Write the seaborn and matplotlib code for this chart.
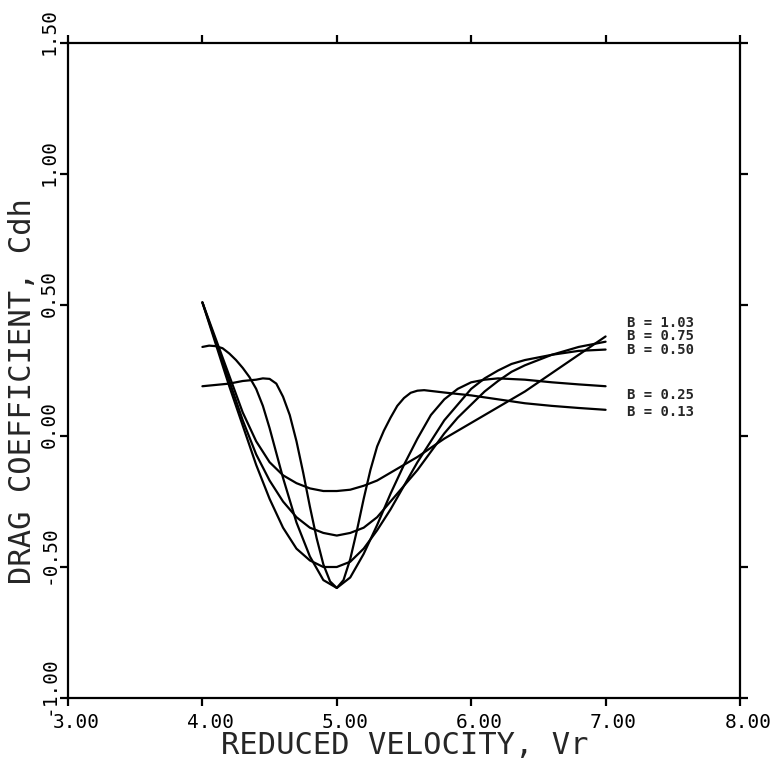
import numpy as np
import pandas as pd
import matplotlib
matplotlib.use("Agg")
import matplotlib.pyplot as plt
import matplotlib.transforms as mtransforms
import seaborn as sns

# ---- data ----
labels = ["B = 1.03", "B = 0.75", "B = 0.50", "B = 0.25", "B = 0.13"]

x_b103 = [4.0, 4.1, 4.2, 4.3, 4.4, 4.5, 4.6, 4.7, 4.8, 4.9, 5.0, 5.1, 5.2, 5.3, 5.4,
          5.5, 5.6, 5.7, 5.8, 5.9, 6.0, 6.1, 6.2, 6.4, 6.6, 6.8, 7.0]
y_b103 = [0.51, 0.37, 0.23, 0.09, -0.02, -0.10, -0.15, -0.18, -0.20, -0.21, -0.21, -0.205, -0.19, -0.17, -0.14,
          -0.11, -0.08, -0.045, -0.01, 0.02, 0.05, 0.08, 0.11, 0.17, 0.24, 0.31, 0.38]

x_b075 = [4.0, 4.1, 4.2, 4.3, 4.4, 4.5, 4.6, 4.7, 4.8, 4.9, 5.0, 5.1, 5.2, 5.3, 5.4,
          5.5, 5.6, 5.7, 5.8, 5.9, 6.0, 6.1, 6.2, 6.3, 6.4, 6.6, 6.8, 7.0]
y_b075 = [0.51, 0.36, 0.21, 0.06, -0.07, -0.17, -0.25, -0.31, -0.35, -0.37, -0.38, -0.37, -0.35, -0.31, -0.25,
          -0.19, -0.13, -0.06, 0.01, 0.07, 0.12, 0.17, 0.21, 0.245, 0.27, 0.31, 0.34, 0.36]

x_b050 = [4.0, 4.1, 4.2, 4.3, 4.4, 4.5, 4.6, 4.7, 4.8, 4.9, 5.0, 5.1, 5.2, 5.3, 5.4,
          5.5, 5.6, 5.7, 5.8, 5.9, 6.0, 6.1, 6.2, 6.3, 6.4, 6.6, 6.8, 7.0]
y_b050 = [0.51, 0.35, 0.19, 0.04, -0.11, -0.24, -0.35, -0.43, -0.475, -0.50, -0.50, -0.48, -0.43, -0.36, -0.28,
          -0.19, -0.10, -0.02, 0.06, 0.12, 0.18, 0.22, 0.25, 0.275, 0.29, 0.31, 0.325, 0.33]

x_b025 = [4.0, 4.05, 4.1, 4.15, 4.2, 4.25, 4.3, 4.35, 4.4, 4.45, 4.5, 4.6, 4.7, 4.8, 4.9, 5.0, 5.1,
          5.2, 5.3, 5.4, 5.5, 5.6, 5.7, 5.8, 5.9, 6.0, 6.1, 6.2, 6.4, 6.6, 6.8, 7.0]
y_b025 = [0.34, 0.345, 0.343, 0.335, 0.315, 0.29, 0.26, 0.225, 0.18, 0.115, 0.03, -0.16, -0.33, -0.46, -0.55, -0.58, -0.54,
          -0.45, -0.34, -0.22, -0.11, -0.01, 0.08, 0.14, 0.18, 0.205, 0.215, 0.22, 0.215, 0.205, 0.197, 0.19]

x_b013 = [4.0, 4.1, 4.2, 4.3, 4.4, 4.45, 4.5, 4.55, 4.6, 4.65, 4.7, 4.75, 4.8, 4.85, 4.9,
          4.95, 5.0, 5.05, 5.1, 5.15, 5.2, 5.25, 5.3, 5.35, 5.4, 5.45, 5.5, 5.55, 5.6, 5.65, 5.7,
          5.8, 6.0, 6.2, 6.4, 6.6, 6.8, 7.0]
y_b013 = [0.19, 0.195, 0.20, 0.21, 0.215, 0.22, 0.218, 0.20, 0.15, 0.08, -0.02, -0.14, -0.27, -0.39, -0.49,
          -0.555, -0.58, -0.55, -0.47, -0.36, -0.24, -0.13, -0.04, 0.02, 0.07, 0.115, 0.145, 0.165, 0.173, 0.175, 0.172,
          0.166, 0.155, 0.14, 0.125, 0.115, 0.107, 0.10]

label_y = [0.43, 0.38, 0.33, 0.155, 0.09]

x_ticks = [3.0, 4.0, 5.0, 6.0, 7.0, 8.0]
y_ticks = [-1.0, -0.5, 0.0, 0.5, 1.0, 1.5]
x_ticklabels = ["3.00", "4.00", "5.00", "6.00", "7.00", "8.00"]
y_ticklabels = ["-1.00", "-0.50", "0.00", "0.50", "1.00", "1.50"]

series = [(labels[0], x_b103, y_b103), (labels[1], x_b075, y_b075),
          (labels[2], x_b050, y_b050), (labels[3], x_b025, y_b025),
          (labels[4], x_b013, y_b013)]
df = pd.concat([pd.DataFrame({"B": name, "Vr": xs, "Cdh": ys}) for name, xs, ys in series],
               ignore_index=True)

# ---- style ----
sns.set_style("white")
plt.rcParams["font.family"] = ["DejaVu Sans Mono", "DejaVu Sans"]

fig = plt.figure(figsize=(7.79, 7.66), dpi=100)
ax = fig.add_axes([0.0873, 0.0888, 0.8626, 0.855])

sns.lineplot(data=df, x="Vr", y="Cdh", units="B", estimator=None, sort=False,
             color="black", linewidth=1.6, ax=ax)

ax.set_xlim(3.0, 8.0)
ax.set_ylim(-1.0, 1.5)
ax.set_xticks(x_ticks)
ax.set_xticklabels(x_ticklabels, fontsize=14)
ax.set_yticks(y_ticks)
ax.set_yticklabels(y_ticklabels, fontsize=14, rotation=90, va="center")

for s in ax.spines.values():
    s.set_visible(True)
    s.set_linewidth(1.6)
    s.set_color("black")

ax.tick_params(axis="both", which="both", direction="out", length=6, width=1.6,
               top=True, right=True, bottom=True, left=True,
               labeltop=False, labelright=False, colors="black")
ax.tick_params(axis="x", pad=5)
ax.tick_params(axis="y", pad=1)

# shift tick labels like the plotter output
dx = mtransforms.ScaledTranslation(8 / 100, 0, fig.dpi_scale_trans)
for lab in ax.get_xticklabels():
    lab.set_transform(lab.get_transform() + dx)
dy = mtransforms.ScaledTranslation(0, 12 / 100, fig.dpi_scale_trans)
for lab in ax.get_yticklabels():
    lab.set_transform(lab.get_transform() + dy)

ax.set_xlabel("")
ax.set_ylabel("")
fig.text(0.519, 0.027, "REDUCED VELOCITY, Vr", ha="center", va="center", fontsize=22)
fig.text(0.029, 0.49, "DRAG COEFFICIENT, Cdh", ha="center", va="center",
         rotation=90, fontsize=22)

for lab, yv in zip(labels, label_y):
    ax.text(7.16, yv, lab, ha="left", va="center", fontsize=10, fontweight="bold")

fig.savefig("out.png", dpi=100, facecolor="white")
